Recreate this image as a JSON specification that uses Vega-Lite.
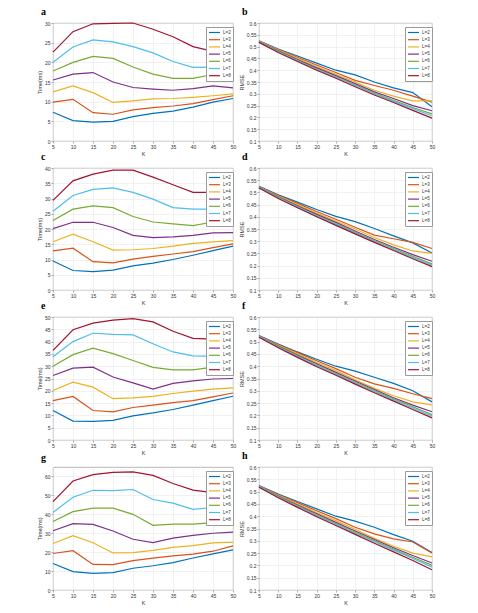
{
  "$schema": "https://vega.github.io/schema/vega-lite/v6.json",
  "background": "white",
  "padding": {"left": 37, "top": 6, "right": 4, "bottom": 4},
  "columns": 2,
  "bounds": "flush",
  "spacing": {"row": 27, "column": 26},
  "data": {"values": [
    {"p":"a","L":"L=2","K":5,"v":7.3},{"p":"a","L":"L=2","K":10,"v":5.2},{"p":"a","L":"L=2","K":15,"v":4.8},{"p":"a","L":"L=2","K":20,"v":5.0},{"p":"a","L":"L=2","K":25,"v":6.2},{"p":"a","L":"L=2","K":30,"v":7.0},{"p":"a","L":"L=2","K":35,"v":7.6},{"p":"a","L":"L=2","K":40,"v":8.6},{"p":"a","L":"L=2","K":45,"v":9.9},{"p":"a","L":"L=2","K":50,"v":10.8},
    {"p":"a","L":"L=3","K":5,"v":9.9},{"p":"a","L":"L=3","K":10,"v":10.6},{"p":"a","L":"L=3","K":15,"v":7.2},{"p":"a","L":"L=3","K":20,"v":6.8},{"p":"a","L":"L=3","K":25,"v":7.9},{"p":"a","L":"L=3","K":30,"v":8.5},{"p":"a","L":"L=3","K":35,"v":8.9},{"p":"a","L":"L=3","K":40,"v":9.5},{"p":"a","L":"L=3","K":45,"v":10.5},{"p":"a","L":"L=3","K":50,"v":11.5},
    {"p":"a","L":"L=4","K":5,"v":12.5},{"p":"a","L":"L=4","K":10,"v":14.0},{"p":"a","L":"L=4","K":15,"v":12.3},{"p":"a","L":"L=4","K":20,"v":9.8},{"p":"a","L":"L=4","K":25,"v":10.2},{"p":"a","L":"L=4","K":30,"v":10.7},{"p":"a","L":"L=4","K":35,"v":10.8},{"p":"a","L":"L=4","K":40,"v":11.1},{"p":"a","L":"L=4","K":45,"v":11.5},{"p":"a","L":"L=4","K":50,"v":12.0},
    {"p":"a","L":"L=5","K":5,"v":15.5},{"p":"a","L":"L=5","K":10,"v":17.0},{"p":"a","L":"L=5","K":15,"v":17.4},{"p":"a","L":"L=5","K":20,"v":15.0},{"p":"a","L":"L=5","K":25,"v":13.6},{"p":"a","L":"L=5","K":30,"v":13.2},{"p":"a","L":"L=5","K":35,"v":12.9},{"p":"a","L":"L=5","K":40,"v":13.3},{"p":"a","L":"L=5","K":45,"v":14.0},{"p":"a","L":"L=5","K":50,"v":13.5},
    {"p":"a","L":"L=6","K":5,"v":17.8},{"p":"a","L":"L=6","K":10,"v":20.0},{"p":"a","L":"L=6","K":15,"v":21.5},{"p":"a","L":"L=6","K":20,"v":21.0},{"p":"a","L":"L=6","K":25,"v":18.8},{"p":"a","L":"L=6","K":30,"v":17.0},{"p":"a","L":"L=6","K":35,"v":15.9},{"p":"a","L":"L=6","K":40,"v":15.9},{"p":"a","L":"L=6","K":45,"v":16.9},{"p":"a","L":"L=6","K":50,"v":16.0},
    {"p":"a","L":"L=7","K":5,"v":20.0},{"p":"a","L":"L=7","K":10,"v":23.9},{"p":"a","L":"L=7","K":15,"v":25.7},{"p":"a","L":"L=7","K":20,"v":25.2},{"p":"a","L":"L=7","K":25,"v":24.0},{"p":"a","L":"L=7","K":30,"v":22.4},{"p":"a","L":"L=7","K":35,"v":20.2},{"p":"a","L":"L=7","K":40,"v":18.7},{"p":"a","L":"L=7","K":45,"v":18.8},{"p":"a","L":"L=7","K":50,"v":18.9},
    {"p":"a","L":"L=8","K":5,"v":22.6},{"p":"a","L":"L=8","K":10,"v":27.8},{"p":"a","L":"L=8","K":15,"v":29.8},{"p":"a","L":"L=8","K":20,"v":29.9},{"p":"a","L":"L=8","K":25,"v":30.0},{"p":"a","L":"L=8","K":30,"v":28.4},{"p":"a","L":"L=8","K":35,"v":26.5},{"p":"a","L":"L=8","K":40,"v":24.0},{"p":"a","L":"L=8","K":45,"v":22.8},{"p":"a","L":"L=8","K":50,"v":22.6},

    {"p":"b","L":"L=2","K":5,"v":0.525},{"p":"b","L":"L=2","K":10,"v":0.49},{"p":"b","L":"L=2","K":15,"v":0.46},{"p":"b","L":"L=2","K":20,"v":0.43},{"p":"b","L":"L=2","K":25,"v":0.40},{"p":"b","L":"L=2","K":30,"v":0.38},{"p":"b","L":"L=2","K":35,"v":0.35},{"p":"b","L":"L=2","K":40,"v":0.325},{"p":"b","L":"L=2","K":45,"v":0.305},{"p":"b","L":"L=2","K":50,"v":0.245},
    {"p":"b","L":"L=3","K":5,"v":0.522},{"p":"b","L":"L=3","K":10,"v":0.487},{"p":"b","L":"L=3","K":15,"v":0.455},{"p":"b","L":"L=3","K":20,"v":0.422},{"p":"b","L":"L=3","K":25,"v":0.39},{"p":"b","L":"L=3","K":30,"v":0.357},{"p":"b","L":"L=3","K":35,"v":0.335},{"p":"b","L":"L=3","K":40,"v":0.315},{"p":"b","L":"L=3","K":45,"v":0.29},{"p":"b","L":"L=3","K":50,"v":0.265},
    {"p":"b","L":"L=4","K":5,"v":0.522},{"p":"b","L":"L=4","K":10,"v":0.485},{"p":"b","L":"L=4","K":15,"v":0.45},{"p":"b","L":"L=4","K":20,"v":0.415},{"p":"b","L":"L=4","K":25,"v":0.383},{"p":"b","L":"L=4","K":30,"v":0.35},{"p":"b","L":"L=4","K":35,"v":0.315},{"p":"b","L":"L=4","K":40,"v":0.29},{"p":"b","L":"L=4","K":45,"v":0.27},{"p":"b","L":"L=4","K":50,"v":0.27},
    {"p":"b","L":"L=5","K":5,"v":0.52},{"p":"b","L":"L=5","K":10,"v":0.482},{"p":"b","L":"L=5","K":15,"v":0.445},{"p":"b","L":"L=5","K":20,"v":0.41},{"p":"b","L":"L=5","K":25,"v":0.377},{"p":"b","L":"L=5","K":30,"v":0.343},{"p":"b","L":"L=5","K":35,"v":0.308},{"p":"b","L":"L=5","K":40,"v":0.28},{"p":"b","L":"L=5","K":45,"v":0.25},{"p":"b","L":"L=5","K":50,"v":0.228},
    {"p":"b","L":"L=6","K":5,"v":0.52},{"p":"b","L":"L=6","K":10,"v":0.48},{"p":"b","L":"L=6","K":15,"v":0.442},{"p":"b","L":"L=6","K":20,"v":0.405},{"p":"b","L":"L=6","K":25,"v":0.372},{"p":"b","L":"L=6","K":30,"v":0.338},{"p":"b","L":"L=6","K":35,"v":0.303},{"p":"b","L":"L=6","K":40,"v":0.272},{"p":"b","L":"L=6","K":45,"v":0.242},{"p":"b","L":"L=6","K":50,"v":0.215},
    {"p":"b","L":"L=7","K":5,"v":0.52},{"p":"b","L":"L=7","K":10,"v":0.478},{"p":"b","L":"L=7","K":15,"v":0.44},{"p":"b","L":"L=7","K":20,"v":0.403},{"p":"b","L":"L=7","K":25,"v":0.37},{"p":"b","L":"L=7","K":30,"v":0.335},{"p":"b","L":"L=7","K":35,"v":0.3},{"p":"b","L":"L=7","K":40,"v":0.268},{"p":"b","L":"L=7","K":45,"v":0.237},{"p":"b","L":"L=7","K":50,"v":0.207},
    {"p":"b","L":"L=8","K":5,"v":0.518},{"p":"b","L":"L=8","K":10,"v":0.475},{"p":"b","L":"L=8","K":15,"v":0.437},{"p":"b","L":"L=8","K":20,"v":0.4},{"p":"b","L":"L=8","K":25,"v":0.366},{"p":"b","L":"L=8","K":30,"v":0.33},{"p":"b","L":"L=8","K":35,"v":0.295},{"p":"b","L":"L=8","K":40,"v":0.263},{"p":"b","L":"L=8","K":45,"v":0.23},{"p":"b","L":"L=8","K":50,"v":0.197},

    {"p":"c","L":"L=2","K":5,"v":9.5},{"p":"c","L":"L=2","K":10,"v":6.4},{"p":"c","L":"L=2","K":15,"v":6.0},{"p":"c","L":"L=2","K":20,"v":6.5},{"p":"c","L":"L=2","K":25,"v":7.9},{"p":"c","L":"L=2","K":30,"v":8.8},{"p":"c","L":"L=2","K":35,"v":10.0},{"p":"c","L":"L=2","K":40,"v":11.4},{"p":"c","L":"L=2","K":45,"v":12.9},{"p":"c","L":"L=2","K":50,"v":14.4},
    {"p":"c","L":"L=3","K":5,"v":12.8},{"p":"c","L":"L=3","K":10,"v":13.7},{"p":"c","L":"L=3","K":15,"v":9.3},{"p":"c","L":"L=3","K":20,"v":8.9},{"p":"c","L":"L=3","K":25,"v":10.1},{"p":"c","L":"L=3","K":30,"v":11.0},{"p":"c","L":"L=3","K":35,"v":11.8},{"p":"c","L":"L=3","K":40,"v":12.6},{"p":"c","L":"L=3","K":45,"v":13.9},{"p":"c","L":"L=3","K":50,"v":15.1},
    {"p":"c","L":"L=4","K":5,"v":15.8},{"p":"c","L":"L=4","K":10,"v":18.3},{"p":"c","L":"L=4","K":15,"v":15.8},{"p":"c","L":"L=4","K":20,"v":13.1},{"p":"c","L":"L=4","K":25,"v":13.2},{"p":"c","L":"L=4","K":30,"v":13.6},{"p":"c","L":"L=4","K":35,"v":14.4},{"p":"c","L":"L=4","K":40,"v":15.3},{"p":"c","L":"L=4","K":45,"v":15.8},{"p":"c","L":"L=4","K":50,"v":16.2},
    {"p":"c","L":"L=5","K":5,"v":20.1},{"p":"c","L":"L=5","K":10,"v":22.2},{"p":"c","L":"L=5","K":15,"v":22.2},{"p":"c","L":"L=5","K":20,"v":20.5},{"p":"c","L":"L=5","K":25,"v":17.9},{"p":"c","L":"L=5","K":30,"v":17.2},{"p":"c","L":"L=5","K":35,"v":17.4},{"p":"c","L":"L=5","K":40,"v":17.9},{"p":"c","L":"L=5","K":45,"v":18.7},{"p":"c","L":"L=5","K":50,"v":18.8},
    {"p":"c","L":"L=6","K":5,"v":22.8},{"p":"c","L":"L=6","K":10,"v":26.5},{"p":"c","L":"L=6","K":15,"v":27.6},{"p":"c","L":"L=6","K":20,"v":27.0},{"p":"c","L":"L=6","K":25,"v":24.1},{"p":"c","L":"L=6","K":30,"v":22.3},{"p":"c","L":"L=6","K":35,"v":21.7},{"p":"c","L":"L=6","K":40,"v":21.1},{"p":"c","L":"L=6","K":45,"v":22.3},{"p":"c","L":"L=6","K":50,"v":22.5},
    {"p":"c","L":"L=7","K":5,"v":25.8},{"p":"c","L":"L=7","K":10,"v":31.0},{"p":"c","L":"L=7","K":15,"v":33.0},{"p":"c","L":"L=7","K":20,"v":33.5},{"p":"c","L":"L=7","K":25,"v":32.0},{"p":"c","L":"L=7","K":30,"v":29.8},{"p":"c","L":"L=7","K":35,"v":27.0},{"p":"c","L":"L=7","K":40,"v":26.5},{"p":"c","L":"L=7","K":45,"v":26.5},{"p":"c","L":"L=7","K":50,"v":26.0},
    {"p":"c","L":"L=8","K":5,"v":29.4},{"p":"c","L":"L=8","K":10,"v":35.8},{"p":"c","L":"L=8","K":15,"v":38.0},{"p":"c","L":"L=8","K":20,"v":39.3},{"p":"c","L":"L=8","K":25,"v":39.3},{"p":"c","L":"L=8","K":30,"v":37.0},{"p":"c","L":"L=8","K":35,"v":34.5},{"p":"c","L":"L=8","K":40,"v":32.0},{"p":"c","L":"L=8","K":45,"v":32.0},{"p":"c","L":"L=8","K":50,"v":31.8},

    {"p":"d","L":"L=2","K":5,"v":0.525},{"p":"d","L":"L=2","K":10,"v":0.49},{"p":"d","L":"L=2","K":15,"v":0.46},{"p":"d","L":"L=2","K":20,"v":0.43},{"p":"d","L":"L=2","K":25,"v":0.402},{"p":"d","L":"L=2","K":30,"v":0.38},{"p":"d","L":"L=2","K":35,"v":0.352},{"p":"d","L":"L=2","K":40,"v":0.322},{"p":"d","L":"L=2","K":45,"v":0.293},{"p":"d","L":"L=2","K":50,"v":0.252},
    {"p":"d","L":"L=3","K":5,"v":0.522},{"p":"d","L":"L=3","K":10,"v":0.487},{"p":"d","L":"L=3","K":15,"v":0.455},{"p":"d","L":"L=3","K":20,"v":0.422},{"p":"d","L":"L=3","K":25,"v":0.39},{"p":"d","L":"L=3","K":30,"v":0.357},{"p":"d","L":"L=3","K":35,"v":0.325},{"p":"d","L":"L=3","K":40,"v":0.31},{"p":"d","L":"L=3","K":45,"v":0.295},{"p":"d","L":"L=3","K":50,"v":0.27},
    {"p":"d","L":"L=4","K":5,"v":0.522},{"p":"d","L":"L=4","K":10,"v":0.485},{"p":"d","L":"L=4","K":15,"v":0.45},{"p":"d","L":"L=4","K":20,"v":0.415},{"p":"d","L":"L=4","K":25,"v":0.383},{"p":"d","L":"L=4","K":30,"v":0.35},{"p":"d","L":"L=4","K":35,"v":0.315},{"p":"d","L":"L=4","K":40,"v":0.285},{"p":"d","L":"L=4","K":45,"v":0.26},{"p":"d","L":"L=4","K":50,"v":0.25},
    {"p":"d","L":"L=5","K":5,"v":0.52},{"p":"d","L":"L=5","K":10,"v":0.482},{"p":"d","L":"L=5","K":15,"v":0.445},{"p":"d","L":"L=5","K":20,"v":0.41},{"p":"d","L":"L=5","K":25,"v":0.377},{"p":"d","L":"L=5","K":30,"v":0.342},{"p":"d","L":"L=5","K":35,"v":0.307},{"p":"d","L":"L=5","K":40,"v":0.275},{"p":"d","L":"L=5","K":45,"v":0.245},{"p":"d","L":"L=5","K":50,"v":0.218},
    {"p":"d","L":"L=6","K":5,"v":0.52},{"p":"d","L":"L=6","K":10,"v":0.48},{"p":"d","L":"L=6","K":15,"v":0.442},{"p":"d","L":"L=6","K":20,"v":0.405},{"p":"d","L":"L=6","K":25,"v":0.372},{"p":"d","L":"L=6","K":30,"v":0.337},{"p":"d","L":"L=6","K":35,"v":0.302},{"p":"d","L":"L=6","K":40,"v":0.27},{"p":"d","L":"L=6","K":45,"v":0.238},{"p":"d","L":"L=6","K":50,"v":0.207},
    {"p":"d","L":"L=7","K":5,"v":0.52},{"p":"d","L":"L=7","K":10,"v":0.478},{"p":"d","L":"L=7","K":15,"v":0.44},{"p":"d","L":"L=7","K":20,"v":0.403},{"p":"d","L":"L=7","K":25,"v":0.369},{"p":"d","L":"L=7","K":30,"v":0.334},{"p":"d","L":"L=7","K":35,"v":0.299},{"p":"d","L":"L=7","K":40,"v":0.266},{"p":"d","L":"L=7","K":45,"v":0.233},{"p":"d","L":"L=7","K":50,"v":0.202},
    {"p":"d","L":"L=8","K":5,"v":0.518},{"p":"d","L":"L=8","K":10,"v":0.475},{"p":"d","L":"L=8","K":15,"v":0.437},{"p":"d","L":"L=8","K":20,"v":0.4},{"p":"d","L":"L=8","K":25,"v":0.365},{"p":"d","L":"L=8","K":30,"v":0.33},{"p":"d","L":"L=8","K":35,"v":0.295},{"p":"d","L":"L=8","K":40,"v":0.262},{"p":"d","L":"L=8","K":45,"v":0.228},{"p":"d","L":"L=8","K":50,"v":0.196},

    {"p":"e","L":"L=2","K":5,"v":12.0},{"p":"e","L":"L=2","K":10,"v":7.7},{"p":"e","L":"L=2","K":15,"v":7.6},{"p":"e","L":"L=2","K":20,"v":8.0},{"p":"e","L":"L=2","K":25,"v":9.8},{"p":"e","L":"L=2","K":30,"v":11.0},{"p":"e","L":"L=2","K":35,"v":12.4},{"p":"e","L":"L=2","K":40,"v":14.2},{"p":"e","L":"L=2","K":45,"v":16.0},{"p":"e","L":"L=2","K":50,"v":17.8},
    {"p":"e","L":"L=3","K":5,"v":16.0},{"p":"e","L":"L=3","K":10,"v":17.7},{"p":"e","L":"L=3","K":15,"v":12.0},{"p":"e","L":"L=3","K":20,"v":11.4},{"p":"e","L":"L=3","K":25,"v":13.2},{"p":"e","L":"L=3","K":30,"v":14.2},{"p":"e","L":"L=3","K":35,"v":15.2},{"p":"e","L":"L=3","K":40,"v":16.0},{"p":"e","L":"L=3","K":45,"v":17.5},{"p":"e","L":"L=3","K":50,"v":19.1},
    {"p":"e","L":"L=4","K":5,"v":20.1},{"p":"e","L":"L=4","K":10,"v":23.5},{"p":"e","L":"L=4","K":15,"v":21.5},{"p":"e","L":"L=4","K":20,"v":16.8},{"p":"e","L":"L=4","K":25,"v":17.1},{"p":"e","L":"L=4","K":30,"v":17.7},{"p":"e","L":"L=4","K":35,"v":18.9},{"p":"e","L":"L=4","K":40,"v":19.9},{"p":"e","L":"L=4","K":45,"v":20.7},{"p":"e","L":"L=4","K":50,"v":21.2},
    {"p":"e","L":"L=5","K":5,"v":26.2},{"p":"e","L":"L=5","K":10,"v":29.2},{"p":"e","L":"L=5","K":15,"v":29.6},{"p":"e","L":"L=5","K":20,"v":25.6},{"p":"e","L":"L=5","K":25,"v":23.2},{"p":"e","L":"L=5","K":30,"v":20.7},{"p":"e","L":"L=5","K":35,"v":23.0},{"p":"e","L":"L=5","K":40,"v":24.0},{"p":"e","L":"L=5","K":45,"v":24.8},{"p":"e","L":"L=5","K":50,"v":25.0},
    {"p":"e","L":"L=6","K":5,"v":30.0},{"p":"e","L":"L=6","K":10,"v":34.7},{"p":"e","L":"L=6","K":15,"v":37.3},{"p":"e","L":"L=6","K":20,"v":35.1},{"p":"e","L":"L=6","K":25,"v":32.3},{"p":"e","L":"L=6","K":30,"v":29.5},{"p":"e","L":"L=6","K":35,"v":28.5},{"p":"e","L":"L=6","K":40,"v":28.5},{"p":"e","L":"L=6","K":45,"v":29.6},{"p":"e","L":"L=6","K":50,"v":30.0},
    {"p":"e","L":"L=7","K":5,"v":33.8},{"p":"e","L":"L=7","K":10,"v":40.0},{"p":"e","L":"L=7","K":15,"v":43.4},{"p":"e","L":"L=7","K":20,"v":42.9},{"p":"e","L":"L=7","K":25,"v":42.7},{"p":"e","L":"L=7","K":30,"v":39.1},{"p":"e","L":"L=7","K":35,"v":35.8},{"p":"e","L":"L=7","K":40,"v":34.2},{"p":"e","L":"L=7","K":45,"v":34.0},{"p":"e","L":"L=7","K":50,"v":34.0},
    {"p":"e","L":"L=8","K":5,"v":36.4},{"p":"e","L":"L=8","K":10,"v":44.8},{"p":"e","L":"L=8","K":15,"v":47.5},{"p":"e","L":"L=8","K":20,"v":48.7},{"p":"e","L":"L=8","K":25,"v":49.3},{"p":"e","L":"L=8","K":30,"v":48.0},{"p":"e","L":"L=8","K":35,"v":44.2},{"p":"e","L":"L=8","K":40,"v":41.3},{"p":"e","L":"L=8","K":45,"v":41.0},{"p":"e","L":"L=8","K":50,"v":40.5},

    {"p":"f","L":"L=2","K":5,"v":0.525},{"p":"f","L":"L=2","K":10,"v":0.49},{"p":"f","L":"L=2","K":15,"v":0.458},{"p":"f","L":"L=2","K":20,"v":0.428},{"p":"f","L":"L=2","K":25,"v":0.40},{"p":"f","L":"L=2","K":30,"v":0.38},{"p":"f","L":"L=2","K":35,"v":0.355},{"p":"f","L":"L=2","K":40,"v":0.33},{"p":"f","L":"L=2","K":45,"v":0.30},{"p":"f","L":"L=2","K":50,"v":0.255},
    {"p":"f","L":"L=3","K":5,"v":0.522},{"p":"f","L":"L=3","K":10,"v":0.487},{"p":"f","L":"L=3","K":15,"v":0.455},{"p":"f","L":"L=3","K":20,"v":0.422},{"p":"f","L":"L=3","K":25,"v":0.39},{"p":"f","L":"L=3","K":30,"v":0.355},{"p":"f","L":"L=3","K":35,"v":0.328},{"p":"f","L":"L=3","K":40,"v":0.31},{"p":"f","L":"L=3","K":45,"v":0.288},{"p":"f","L":"L=3","K":50,"v":0.268},
    {"p":"f","L":"L=4","K":5,"v":0.522},{"p":"f","L":"L=4","K":10,"v":0.485},{"p":"f","L":"L=4","K":15,"v":0.45},{"p":"f","L":"L=4","K":20,"v":0.415},{"p":"f","L":"L=4","K":25,"v":0.382},{"p":"f","L":"L=4","K":30,"v":0.345},{"p":"f","L":"L=4","K":35,"v":0.31},{"p":"f","L":"L=4","K":40,"v":0.28},{"p":"f","L":"L=4","K":45,"v":0.255},{"p":"f","L":"L=4","K":50,"v":0.243},
    {"p":"f","L":"L=5","K":5,"v":0.52},{"p":"f","L":"L=5","K":10,"v":0.482},{"p":"f","L":"L=5","K":15,"v":0.445},{"p":"f","L":"L=5","K":20,"v":0.41},{"p":"f","L":"L=5","K":25,"v":0.375},{"p":"f","L":"L=5","K":30,"v":0.34},{"p":"f","L":"L=5","K":35,"v":0.305},{"p":"f","L":"L=5","K":40,"v":0.272},{"p":"f","L":"L=5","K":45,"v":0.242},{"p":"f","L":"L=5","K":50,"v":0.215},
    {"p":"f","L":"L=6","K":5,"v":0.52},{"p":"f","L":"L=6","K":10,"v":0.48},{"p":"f","L":"L=6","K":15,"v":0.442},{"p":"f","L":"L=6","K":20,"v":0.405},{"p":"f","L":"L=6","K":25,"v":0.37},{"p":"f","L":"L=6","K":30,"v":0.335},{"p":"f","L":"L=6","K":35,"v":0.3},{"p":"f","L":"L=6","K":40,"v":0.267},{"p":"f","L":"L=6","K":45,"v":0.235},{"p":"f","L":"L=6","K":50,"v":0.203},
    {"p":"f","L":"L=7","K":5,"v":0.52},{"p":"f","L":"L=7","K":10,"v":0.478},{"p":"f","L":"L=7","K":15,"v":0.44},{"p":"f","L":"L=7","K":20,"v":0.402},{"p":"f","L":"L=7","K":25,"v":0.367},{"p":"f","L":"L=7","K":30,"v":0.332},{"p":"f","L":"L=7","K":35,"v":0.297},{"p":"f","L":"L=7","K":40,"v":0.263},{"p":"f","L":"L=7","K":45,"v":0.23},{"p":"f","L":"L=7","K":50,"v":0.197},
    {"p":"f","L":"L=8","K":5,"v":0.518},{"p":"f","L":"L=8","K":10,"v":0.475},{"p":"f","L":"L=8","K":15,"v":0.436},{"p":"f","L":"L=8","K":20,"v":0.398},{"p":"f","L":"L=8","K":25,"v":0.363},{"p":"f","L":"L=8","K":30,"v":0.327},{"p":"f","L":"L=8","K":35,"v":0.292},{"p":"f","L":"L=8","K":40,"v":0.258},{"p":"f","L":"L=8","K":45,"v":0.224},{"p":"f","L":"L=8","K":50,"v":0.19},

    {"p":"g","L":"L=2","K":5,"v":14.0},{"p":"g","L":"L=2","K":10,"v":9.7},{"p":"g","L":"L=2","K":15,"v":8.8},{"p":"g","L":"L=2","K":20,"v":9.2},{"p":"g","L":"L=2","K":25,"v":11.5},{"p":"g","L":"L=2","K":30,"v":12.8},{"p":"g","L":"L=2","K":35,"v":14.5},{"p":"g","L":"L=2","K":40,"v":16.9},{"p":"g","L":"L=2","K":45,"v":19.1},{"p":"g","L":"L=2","K":50,"v":21.2},
    {"p":"g","L":"L=3","K":5,"v":19.3},{"p":"g","L":"L=3","K":10,"v":20.8},{"p":"g","L":"L=3","K":15,"v":13.5},{"p":"g","L":"L=3","K":20,"v":13.4},{"p":"g","L":"L=3","K":25,"v":15.5},{"p":"g","L":"L=3","K":30,"v":16.8},{"p":"g","L":"L=3","K":35,"v":18.0},{"p":"g","L":"L=3","K":40,"v":19.0},{"p":"g","L":"L=3","K":45,"v":20.5},{"p":"g","L":"L=3","K":50,"v":23.3},
    {"p":"g","L":"L=4","K":5,"v":24.6},{"p":"g","L":"L=4","K":10,"v":28.7},{"p":"g","L":"L=4","K":15,"v":25.0},{"p":"g","L":"L=4","K":20,"v":19.6},{"p":"g","L":"L=4","K":25,"v":19.8},{"p":"g","L":"L=4","K":30,"v":20.9},{"p":"g","L":"L=4","K":35,"v":22.5},{"p":"g","L":"L=4","K":40,"v":23.5},{"p":"g","L":"L=4","K":45,"v":24.9},{"p":"g","L":"L=4","K":50,"v":25.3},
    {"p":"g","L":"L=5","K":5,"v":31.3},{"p":"g","L":"L=5","K":10,"v":35.1},{"p":"g","L":"L=5","K":15,"v":34.7},{"p":"g","L":"L=5","K":20,"v":31.2},{"p":"g","L":"L=5","K":25,"v":26.8},{"p":"g","L":"L=5","K":30,"v":25.0},{"p":"g","L":"L=5","K":35,"v":27.4},{"p":"g","L":"L=5","K":40,"v":28.9},{"p":"g","L":"L=5","K":45,"v":30.0},{"p":"g","L":"L=5","K":50,"v":30.6},
    {"p":"g","L":"L=6","K":5,"v":36.2},{"p":"g","L":"L=6","K":10,"v":41.4},{"p":"g","L":"L=6","K":15,"v":43.3},{"p":"g","L":"L=6","K":20,"v":43.3},{"p":"g","L":"L=6","K":25,"v":40.0},{"p":"g","L":"L=6","K":30,"v":34.2},{"p":"g","L":"L=6","K":35,"v":34.8},{"p":"g","L":"L=6","K":40,"v":34.8},{"p":"g","L":"L=6","K":45,"v":35.6},{"p":"g","L":"L=6","K":50,"v":36.6},
    {"p":"g","L":"L=7","K":5,"v":41.0},{"p":"g","L":"L=7","K":10,"v":49.0},{"p":"g","L":"L=7","K":15,"v":52.7},{"p":"g","L":"L=7","K":20,"v":52.5},{"p":"g","L":"L=7","K":25,"v":53.1},{"p":"g","L":"L=7","K":30,"v":47.8},{"p":"g","L":"L=7","K":35,"v":45.9},{"p":"g","L":"L=7","K":40,"v":42.6},{"p":"g","L":"L=7","K":45,"v":43.6},{"p":"g","L":"L=7","K":50,"v":43.5},
    {"p":"g","L":"L=8","K":5,"v":46.7},{"p":"g","L":"L=8","K":10,"v":57.6},{"p":"g","L":"L=8","K":15,"v":61.0},{"p":"g","L":"L=8","K":20,"v":62.2},{"p":"g","L":"L=8","K":25,"v":62.4},{"p":"g","L":"L=8","K":30,"v":60.6},{"p":"g","L":"L=8","K":35,"v":56.3},{"p":"g","L":"L=8","K":40,"v":52.8},{"p":"g","L":"L=8","K":45,"v":51.5},{"p":"g","L":"L=8","K":50,"v":51.2},

    {"p":"h","L":"L=2","K":5,"v":0.525},{"p":"h","L":"L=2","K":10,"v":0.49},{"p":"h","L":"L=2","K":15,"v":0.46},{"p":"h","L":"L=2","K":20,"v":0.43},{"p":"h","L":"L=2","K":25,"v":0.40},{"p":"h","L":"L=2","K":30,"v":0.38},{"p":"h","L":"L=2","K":35,"v":0.355},{"p":"h","L":"L=2","K":40,"v":0.325},{"p":"h","L":"L=2","K":45,"v":0.298},{"p":"h","L":"L=2","K":50,"v":0.252},
    {"p":"h","L":"L=3","K":5,"v":0.522},{"p":"h","L":"L=3","K":10,"v":0.487},{"p":"h","L":"L=3","K":15,"v":0.455},{"p":"h","L":"L=3","K":20,"v":0.422},{"p":"h","L":"L=3","K":25,"v":0.39},{"p":"h","L":"L=3","K":30,"v":0.355},{"p":"h","L":"L=3","K":35,"v":0.328},{"p":"h","L":"L=3","K":40,"v":0.308},{"p":"h","L":"L=3","K":45,"v":0.295},{"p":"h","L":"L=3","K":50,"v":0.25},
    {"p":"h","L":"L=4","K":5,"v":0.522},{"p":"h","L":"L=4","K":10,"v":0.485},{"p":"h","L":"L=4","K":15,"v":0.45},{"p":"h","L":"L=4","K":20,"v":0.415},{"p":"h","L":"L=4","K":25,"v":0.382},{"p":"h","L":"L=4","K":30,"v":0.347},{"p":"h","L":"L=4","K":35,"v":0.31},{"p":"h","L":"L=4","K":40,"v":0.278},{"p":"h","L":"L=4","K":45,"v":0.25},{"p":"h","L":"L=4","K":50,"v":0.235},
    {"p":"h","L":"L=5","K":5,"v":0.52},{"p":"h","L":"L=5","K":10,"v":0.482},{"p":"h","L":"L=5","K":15,"v":0.445},{"p":"h","L":"L=5","K":20,"v":0.41},{"p":"h","L":"L=5","K":25,"v":0.375},{"p":"h","L":"L=5","K":30,"v":0.34},{"p":"h","L":"L=5","K":35,"v":0.305},{"p":"h","L":"L=5","K":40,"v":0.272},{"p":"h","L":"L=5","K":45,"v":0.24},{"p":"h","L":"L=5","K":50,"v":0.21},
    {"p":"h","L":"L=6","K":5,"v":0.52},{"p":"h","L":"L=6","K":10,"v":0.48},{"p":"h","L":"L=6","K":15,"v":0.442},{"p":"h","L":"L=6","K":20,"v":0.405},{"p":"h","L":"L=6","K":25,"v":0.37},{"p":"h","L":"L=6","K":30,"v":0.335},{"p":"h","L":"L=6","K":35,"v":0.3},{"p":"h","L":"L=6","K":40,"v":0.266},{"p":"h","L":"L=6","K":45,"v":0.233},{"p":"h","L":"L=6","K":50,"v":0.2},
    {"p":"h","L":"L=7","K":5,"v":0.52},{"p":"h","L":"L=7","K":10,"v":0.478},{"p":"h","L":"L=7","K":15,"v":0.44},{"p":"h","L":"L=7","K":20,"v":0.402},{"p":"h","L":"L=7","K":25,"v":0.367},{"p":"h","L":"L=7","K":30,"v":0.331},{"p":"h","L":"L=7","K":35,"v":0.296},{"p":"h","L":"L=7","K":40,"v":0.262},{"p":"h","L":"L=7","K":45,"v":0.228},{"p":"h","L":"L=7","K":50,"v":0.193},
    {"p":"h","L":"L=8","K":5,"v":0.518},{"p":"h","L":"L=8","K":10,"v":0.475},{"p":"h","L":"L=8","K":15,"v":0.436},{"p":"h","L":"L=8","K":20,"v":0.398},{"p":"h","L":"L=8","K":25,"v":0.362},{"p":"h","L":"L=8","K":30,"v":0.326},{"p":"h","L":"L=8","K":35,"v":0.29},{"p":"h","L":"L=8","K":40,"v":0.255},{"p":"h","L":"L=8","K":45,"v":0.22},{"p":"h","L":"L=8","K":50,"v":0.182}
  ]},
  "concat": [
    {"width": 180, "height": 118, "title": {"text": "a", "dx": -12},
     "transform": [{"filter": "datum.p === 'a'"}],
     "mark": {"type": "line", "strokeWidth": 1.2},
     "encoding": {
       "x": {"field": "K", "type": "quantitative", "scale": {"domain": [5, 50], "nice": false}, "axis": {"values": [5,10,15,20,25,30,35,40,45,50], "title": "K"}},
       "y": {"field": "v", "type": "quantitative", "scale": {"domain": [0, 30], "nice": false}, "axis": {"values": [0,5,10,15,20,25,30], "title": "Time(ms)"}},
       "color": {"field": "L", "type": "nominal", "legend": {"orient": "none", "legendX": 153, "legendY": 4}}
     }},
    {"width": 173, "height": 118, "title": {"text": "b", "dx": -17},
     "transform": [{"filter": "datum.p === 'b'"}],
     "mark": {"type": "line", "strokeWidth": 1.2},
     "encoding": {
       "x": {"field": "K", "type": "quantitative", "scale": {"domain": [5, 50], "nice": false}, "axis": {"values": [5,10,15,20,25,30,35,40,45,50], "title": "K"}},
       "y": {"field": "v", "type": "quantitative", "scale": {"domain": [0.1, 0.6], "nice": false}, "axis": {"values": [0.1,0.15,0.2,0.25,0.3,0.35,0.4,0.45,0.5,0.55,0.6], "format": "~g", "title": "RMSE"}},
       "color": {"field": "L", "type": "nominal", "legend": {"orient": "none", "legendX": 146, "legendY": 4}}
     }},
    {"width": 180, "height": 122, "title": {"text": "c", "dx": -12},
     "transform": [{"filter": "datum.p === 'c'"}],
     "mark": {"type": "line", "strokeWidth": 1.2},
     "encoding": {
       "x": {"field": "K", "type": "quantitative", "scale": {"domain": [5, 50], "nice": false}, "axis": {"values": [5,10,15,20,25,30,35,40,45,50], "title": "K"}},
       "y": {"field": "v", "type": "quantitative", "scale": {"domain": [0, 40], "nice": false}, "axis": {"values": [0,5,10,15,20,25,30,35,40], "title": "Time(ms)"}},
       "color": {"field": "L", "type": "nominal", "legend": {"orient": "none", "legendX": 153, "legendY": 4}}
     }},
    {"width": 173, "height": 122, "title": {"text": "d", "dx": -17},
     "transform": [{"filter": "datum.p === 'd'"}],
     "mark": {"type": "line", "strokeWidth": 1.2},
     "encoding": {
       "x": {"field": "K", "type": "quantitative", "scale": {"domain": [5, 50], "nice": false}, "axis": {"values": [5,10,15,20,25,30,35,40,45,50], "title": "K"}},
       "y": {"field": "v", "type": "quantitative", "scale": {"domain": [0.1, 0.6], "nice": false}, "axis": {"values": [0.1,0.15,0.2,0.25,0.3,0.35,0.4,0.45,0.5,0.55,0.6], "format": "~g", "title": "RMSE"}},
       "color": {"field": "L", "type": "nominal", "legend": {"orient": "none", "legendX": 146, "legendY": 4}}
     }},
    {"width": 180, "height": 123, "title": {"text": "e", "dx": -12},
     "transform": [{"filter": "datum.p === 'e'"}],
     "mark": {"type": "line", "strokeWidth": 1.2},
     "encoding": {
       "x": {"field": "K", "type": "quantitative", "scale": {"domain": [5, 50], "nice": false}, "axis": {"values": [5,10,15,20,25,30,35,40,45,50], "title": "K"}},
       "y": {"field": "v", "type": "quantitative", "scale": {"domain": [0, 50], "nice": false}, "axis": {"values": [0,5,10,15,20,25,30,35,40,45,50], "title": "Time(ms)"}},
       "color": {"field": "L", "type": "nominal", "legend": {"orient": "none", "legendX": 153, "legendY": 4}}
     }},
    {"width": 173, "height": 123, "title": {"text": "f", "dx": -17},
     "transform": [{"filter": "datum.p === 'f'"}],
     "mark": {"type": "line", "strokeWidth": 1.2},
     "encoding": {
       "x": {"field": "K", "type": "quantitative", "scale": {"domain": [5, 50], "nice": false}, "axis": {"values": [5,10,15,20,25,30,35,40,45,50], "title": "K"}},
       "y": {"field": "v", "type": "quantitative", "scale": {"domain": [0.1, 0.6], "nice": false}, "axis": {"values": [0.1,0.15,0.2,0.25,0.3,0.35,0.4,0.45,0.5,0.55,0.6], "format": "~g", "title": "RMSE"}},
       "color": {"field": "L", "type": "nominal", "legend": {"orient": "none", "legendX": 146, "legendY": 4}}
     }},
    {"width": 180, "height": 123, "title": {"text": "g", "dx": -12},
     "transform": [{"filter": "datum.p === 'g'"}],
     "mark": {"type": "line", "strokeWidth": 1.2},
     "encoding": {
       "x": {"field": "K", "type": "quantitative", "scale": {"domain": [5, 50], "nice": false}, "axis": {"values": [5,10,15,20,25,30,35,40,45,50], "title": "K"}},
       "y": {"field": "v", "type": "quantitative", "scale": {"domain": [0, 65], "nice": false}, "axis": {"values": [0,10,20,30,40,50,60], "title": "Time(ms)"}},
       "color": {"field": "L", "type": "nominal", "legend": {"orient": "none", "legendX": 153, "legendY": 4}}
     }},
    {"width": 173, "height": 123, "title": {"text": "h", "dx": -17},
     "transform": [{"filter": "datum.p === 'h'"}],
     "mark": {"type": "line", "strokeWidth": 1.2},
     "encoding": {
       "x": {"field": "K", "type": "quantitative", "scale": {"domain": [5, 50], "nice": false}, "axis": {"values": [5,10,15,20,25,30,35,40,45,50], "title": "K"}},
       "y": {"field": "v", "type": "quantitative", "scale": {"domain": [0.1, 0.6], "nice": false}, "axis": {"values": [0.1,0.15,0.2,0.25,0.3,0.35,0.4,0.45,0.5,0.55,0.6], "format": "~g", "title": "RMSE"}},
       "color": {"field": "L", "type": "nominal", "legend": {"orient": "none", "legendX": 146, "legendY": 4}}
     }}
  ],
  "resolve": {"scale": {"color": "shared"}, "legend": {"color": "independent"}},
  "config": {
    "font": "Liberation Sans",
    "view": {"stroke": "#a6a6a6", "strokeWidth": 0.8},
    "range": {"category": ["#0072BD", "#D95319", "#EDB120", "#7E2F8E", "#77AC30", "#4DBEEE", "#A2142F"]},
    "axis": {
      "labelFont": "Liberation Sans", "labelFontSize": 5, "labelColor": "#333333", "labelPadding": 1,
      "titleFont": "Liberation Sans", "titleFontSize": 5.5, "titleFontWeight": "normal", "titleColor": "#333333", "titlePadding": 2,
      "grid": true, "gridColor": "#e8e8e8", "gridWidth": 0.6,
      "domain": false, "tickSize": 2, "tickColor": "#777777", "tickWidth": 0.6,
      "labelFlush": false, "labelOverlap": false
    },
    "legend": {
      "title": null, "symbolType": "M-2,0H2", "symbolSize": 30, "symbolStrokeWidth": 1.2,
      "labelFont": "Liberation Sans", "labelFontSize": 4.5, "labelColor": "#333333", "labelOffset": 5,
      "padding": 2, "rowPadding": 1.2, "strokeColor": "#9a9a9a", "fillColor": "white", "symbolOffset": 3
    },
    "title": {"font": "Liberation Serif", "fontSize": 10, "fontWeight": "bold", "anchor": "start", "frame": "group", "offset": 0, "color": "black"}
  }
}
